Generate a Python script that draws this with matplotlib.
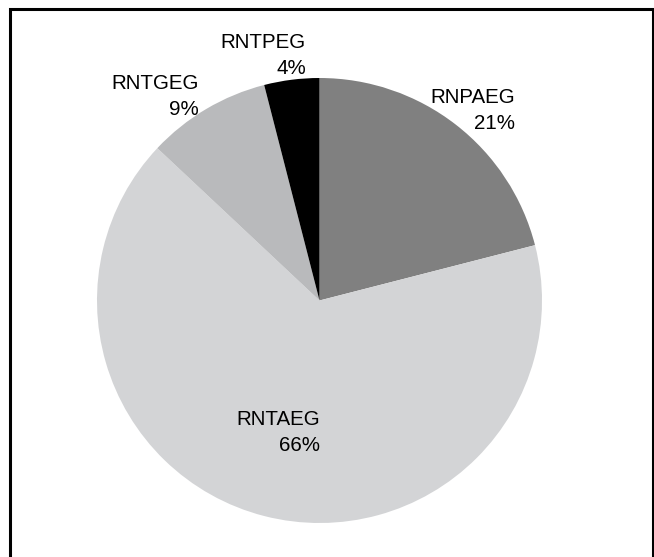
import matplotlib
matplotlib.use("Agg")
import matplotlib.pyplot as plt
from matplotlib.patches import Rectangle

# =========================
# DATA
# =========================
labels = ["RNPAEG", "RNTAEG", "RNTGEG", "RNTPEG"]
shares = [21, 66, 9, 4]
colors = ["#808080", "#d3d4d6", "#b9babc", "#000000"]

# label anchors (right edge, baseline of name line), in pie units
label_pos = [(0.879, 0.888), (0.002, -0.560), (-0.542, 0.951), (-0.061, 1.135)]

W, H = 654, 557
R_PX = 222.5
LINE_GAP = 26 / R_PX

plt.rcParams["font.family"] = ["Liberation Sans", "DejaVu Sans"]

fig = plt.figure(figsize=(W / 100, H / 100), dpi=100)
ax = fig.add_axes([97 / W, (H - 523) / H, 445 / W, 445 / H])

ax.pie(shares, colors=colors, startangle=90, counterclock=False,
       wedgeprops=dict(linewidth=0))
ax.set_xlim(-1, 1)
ax.set_ylim(-1, 1)
ax.set_aspect("equal")
ax.axis("off")

for name, val, (x, y) in zip(labels, shares, label_pos):
    ax.text(x, y, name, ha="right", va="baseline", fontsize=14.8, color="black")
    ax.text(x, y - LINE_GAP, f"{val}%", ha="right", va="baseline", fontsize=14.8, color="black")

# frame around the chart (bottom edge falls off the image)
border = Rectangle((10.3 / W, -0.05), (652.5 - 10.3) / W, (H - 9) / H + 0.05,
                   transform=fig.transFigure, fill=False, edgecolor="black", linewidth=2.2)
fig.patches.append(border)

fig.savefig("out.png", dpi=100)
